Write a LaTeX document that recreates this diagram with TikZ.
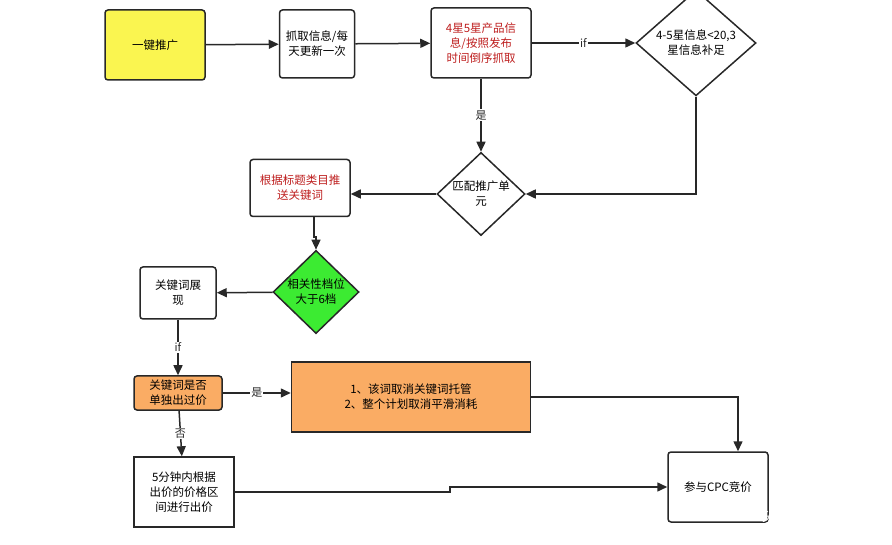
\documentclass[tikz,border=0pt]{standalone}
\usepackage{fontspec}
\setmainfont{Noto Sans CJK SC}
\usetikzlibrary{shapes.geometric,arrows.meta}
\definecolor{boxred}{RGB}{190,30,30}
\definecolor{boxorange}{RGB}{250,172,100}
\definecolor{boxyellow}{RGB}{250,245,80}
\definecolor{boxgreen}{RGB}{60,235,50}
\definecolor{linegray}{RGB}{40,40,40}
\tikzset{
  box/.style={draw=linegray,line width=1.5pt,rounded corners=3pt,fill=white,align=center,
    inner sep=1pt,font=\fontsize{11.5pt}{15pt}\selectfont},
  dia/.style={draw=linegray,line width=1.5pt,diamond,fill=white,align=center,inner sep=0pt,
    font=\fontsize{11.5pt}{15pt}\selectfont},
  arr/.style={draw=linegray,line width=1.5pt,-{Triangle[length=10pt,width=9pt]}},
  lab/.style={fill=white,inner sep=1pt,font=\fontsize{11pt}{12pt}\selectfont,text=linegray}
}
\begin{document}
\begin{tikzpicture}[x=1pt,y=-1pt]
\useasboundingbox (0,0) rectangle (892,545);
\node[box,fill=boxyellow,minimum width=100pt,minimum height=70pt] (n1) at (155,45) {一键推广};
\node[box,minimum width=75pt,minimum height=68pt] (n2) at (317,44) {抓取信息/每\\天更新一次};
\node[box,minimum width=100pt,minimum height=70pt,text=boxred] (n3) at (481,43) {4星5星产品信\\息/按照发布\\时间倒序抓取};
\node[dia,minimum width=120pt,minimum height=80pt] (d1) at (696,43) {4-5星信息<20,3\\星信息补足};
\node[dia,minimum width=88pt,minimum height=80pt] (d2) at (481,194) {匹配推广单\\元};
\node[box,minimum width=100pt,minimum height=57pt,text=boxred] (n4) at (300,188) {根据标题类目推\\送关键词};
\node[dia,fill=boxgreen,minimum width=86pt,minimum height=60pt] (d3) at (316,292) {相关性档位\\大于6档};
\node[box,minimum width=76pt,minimum height=52pt] (n5) at (178,293) {关键词展\\现};
\node[box,fill=boxorange,minimum width=88pt,minimum height=34pt] (n6) at (178,393) {关键词是否\\单独出过价};
\node[box,rounded corners=0pt,fill=boxorange,minimum width=239pt,minimum height=70pt] (n7) at (411,397) {1、该词取消关键词托管\\2、整个计划取消平滑消耗};
\node[box,rounded corners=0pt,minimum width=100pt,minimum height=70pt] (n8) at (184,492) {5分钟内根据\\出价的价格区\\间进行出价};
\node[box,minimum width=100pt,minimum height=70pt] (n9) at (718,487) {参与CPC竞价};
\node[text=white,font=\fontsize{14pt}{16pt}\selectfont] (wm) at (805,517) {头条 @丁鹏程};
\coordinate (c1) at (696,194);
\coordinate (c2) at (738,397);
\draw[arr] (n1) to (n2);
\draw[arr] (n2) to (n3);
\draw[arr] (n3) to node[lab] {if} (d1);
\draw[arr] (d1.south) |- (c1) to (d2.east);
\draw[arr] (n3) to node[lab] {是} (d2);
\draw[arr] (d2.west) to (n4.east |- d2.west);
\draw[arr] (n4.south -| 314,0) -- (314,237) -- (316,237) to (d3.north);
\draw[arr] (d3) to (n5);
\draw[arr] (n5) to node[lab] {if} (n6);
\draw[arr] (n6) to node[lab] {是} (n7.west |- n6.east);
\draw[arr] (n6) to node[lab] {否} (n8);
\draw[arr] (n7.east |- c2) -- (c2) to (n9.north -| c2);
\draw[arr] (n8.east) -- (450,492) -- (450,487) to (n9.west);
\end{tikzpicture}
\end{document}
